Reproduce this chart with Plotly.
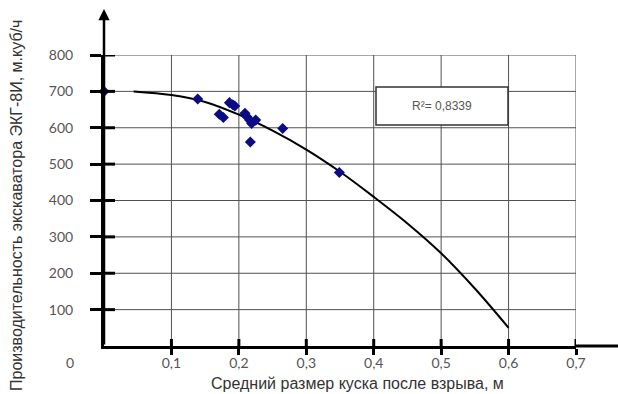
import plotly.graph_objects as go

# Measured points: mean fragment size after blasting (m) vs excavator output (m3/h)
size_m = [0.0, 0.139, 0.171, 0.177, 0.186, 0.191, 0.194, 0.209, 0.212, 0.216,
          0.219, 0.225, 0.217, 0.265, 0.349]
output_m3h = [700, 679, 637, 628, 669, 663, 660, 640, 630, 621,
              612, 621, 561, 598, 477]

# Trend line values
trend_x = [0.044, 0.1, 0.15, 0.2, 0.25, 0.3, 0.35, 0.4, 0.45, 0.5, 0.55, 0.6]
trend_y = [700, 690, 671, 636, 592, 540, 479, 410, 337, 255, 158, 50]

x_ticks = [0.1, 0.2, 0.3, 0.4, 0.5, 0.6, 0.7]
x_tick_text = ["0,1", "0,2", "0,3", "0,4", "0,5", "0,6", "0,7"]
y_ticks = [100, 200, 300, 400, 500, 600, 700, 800]

r2_text = "R²= 0,8339"
x_title = "Средний размер куска после взрыва, м"
y_title = "Производительность экскаватора ЭКГ-8И, м.куб/ч"

W, H = 618, 394
L, R, T, B = 104, 42, 55, 48
plot_w = W - L - R
plot_h = H - T - B
X_MAX, Y_MAX = 0.7, 800

def px_x(p):
    return (p - L) / plot_w

def px_y(p):
    return (H - B - p) / plot_h

tick_font = dict(family="Lato, Liberation Sans, sans-serif", size=14, color="#555555")
title_font = dict(family="Liberation Sans, Arial, sans-serif", size=16, color="#333333")
grid_color = "#505050"

fig = go.Figure()

# grid
for v in y_ticks:
    fig.add_shape(type="line", xref="x", yref="y", x0=0, x1=X_MAX, y0=v, y1=v,
                  line=dict(color=grid_color, width=1), layer="below")
for v in x_ticks:
    fig.add_shape(type="line", xref="x", yref="y", x0=v, x1=v, y0=0, y1=Y_MAX,
                  line=dict(color=grid_color, width=1), layer="below")

fig.add_trace(go.Scatter(
    x=trend_x, y=trend_y, mode="lines",
    line=dict(color="black", width=2, shape="spline", smoothing=1.0),
    hoverinfo="skip", showlegend=False,
))
fig.add_trace(go.Scatter(
    x=size_m, y=output_m3h, mode="markers",
    marker=dict(symbol="diamond", size=8.5, color="#0b0b85"),
    cliponaxis=False, showlegend=False,
))

axis_common = dict(showline=True, linewidth=3, linecolor="black",
                   zeroline=False, tickwidth=3, tickcolor="black",
                   showgrid=False, layer="above traces")

fig.update_layout(
    width=W, height=H,
    margin=dict(l=L, r=R, t=T, b=B, pad=0),
    paper_bgcolor="white", plot_bgcolor="white",
    xaxis=dict(range=[0, X_MAX], tickmode="array", tickvals=x_ticks,
               ticktext=x_tick_text, ticks="outside", ticklen=6,
               tickfont=tick_font, ticklabelstandoff=-4, **axis_common),
    yaxis=dict(range=[0, Y_MAX], tickmode="array", tickvals=y_ticks,
               ticks="outside", ticklen=11, tickfont=tick_font,
               ticklabelstandoff=14, **axis_common),
    showlegend=False,
)

# inner halves of the crossing tick marks
for v in x_ticks:
    fig.add_shape(type="line", xref="x", yref="paper", ysizemode="pixel",
                  yanchor=0, x0=v, x1=v, y0=0, y1=7,
                  line=dict(color="black", width=3))
for v in y_ticks:
    fig.add_shape(type="line", xref="paper", yref="y", xsizemode="pixel",
                  xanchor=0, x0=0, x1=11, y0=v, y1=v,
                  line=dict(color="black", width=3))

# x axis continues past the last grid line
fig.add_shape(type="line", xref="paper", yref="paper",
              x0=1, x1=px_x(W), y0=0, y1=0,
              line=dict(color="black", width=3))

# R² box
fig.add_shape(type="rect", xref="paper", yref="paper",
              x0=px_x(376), x1=px_x(508), y0=px_y(125), y1=px_y(87),
              line=dict(color="#333333", width=1.5), fillcolor="white",
              layer="above")
fig.add_annotation(x=px_x(442), y=px_y(106), xref="paper", yref="paper",
                   xanchor="center", yanchor="middle",
                   text=r2_text, showarrow=False,
                   font=dict(family="Liberation Sans, Arial, sans-serif",
                             size=12, color="#555555"))

# y axis arrow
fig.add_annotation(x=0, xref="x", y=px_y(9), yref="paper",
                   ax=0, ay=H - B - 9, axref="pixel", ayref="pixel",
                   showarrow=True, arrowhead=2, arrowsize=0.9, arrowwidth=2.5,
                   arrowcolor="black", text="")

# origin label
fig.add_annotation(x=px_x(70), y=px_y(362), xref="paper", yref="paper",
                   xanchor="center", yanchor="middle",
                   text="0", showarrow=False, font=tick_font)

# axis titles
fig.add_annotation(x=px_x(357), y=px_y(383), xref="paper", yref="paper",
                   xanchor="center", yanchor="middle",
                   text=x_title, showarrow=False, font=title_font)
fig.add_annotation(x=px_x(17), y=px_y(206), xref="paper", yref="paper",
                   xanchor="center", yanchor="middle",
                   text=y_title, showarrow=False, textangle=-90, font=title_font)

fig.write_html("out.html")
